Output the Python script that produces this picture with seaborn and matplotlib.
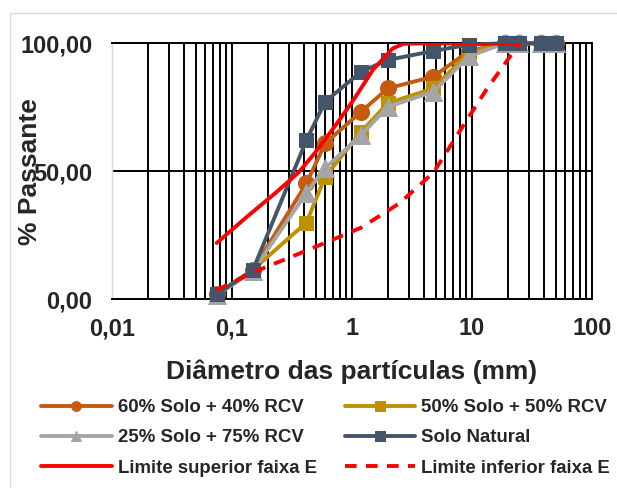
import seaborn as sns
import matplotlib
matplotlib.use('Agg')
import matplotlib.pyplot as plt
from matplotlib.patches import Rectangle
from matplotlib.ticker import LogLocator, FixedLocator, NullFormatter

# Sieve openings (mm)
peneiras = [0.075, 0.15, 0.42, 0.6, 1.2, 2.0, 4.8, 9.5, 19, 25, 38, 50]

solo60_rcv40 = [2, 11.5, 45.3, 60.9, 73.3, 82.4, 87.0, 97, 100, 100, 100, 100]
solo50_rcv50 = [2, 11.5, 30.0, 47.8, 65.5, 76.6, 82.4, 96.5, 100, 100, 100, 100]
solo25_rcv75 = [1.5, 11, 41.6, 51.2, 64.2, 75.2, 81.1, 95, 100, 100, 100, 100]
solo_natural = [2, 11.4, 62.2, 77.2, 88.9, 93.5, 97.0, 99.5, 100, 100, 100, 100]

# Limits of faixa E
lim_sup_x = [0.075, 0.14, 0.23, 0.36, 0.49, 0.72, 1.04, 1.5, 2.2, 2.7, 4.0, 25]
lim_sup_y = [22, 33, 41.4, 49.5, 57, 67.4, 78, 89.6, 98, 99.8, 100, 100]
lim_inf_x = [0.075, 0.15, 0.42, 1.2, 2.5, 4.8, 9.1, 13.3, 25]
lim_inf_y = [3.6, 10.5, 19, 28, 37.5, 49.5, 70, 82, 100]

labels = ['60% Solo + 40% RCV', '50% Solo + 50% RCV', '25% Solo + 75% RCV',
          'Solo Natural', 'Limite superior faixa E', 'Limite inferior faixa E']

sns.set_theme(style='white')
plt.rcParams['font.family'] = ['Liberation Sans', 'DejaVu Sans']
plt.rcParams['font.weight'] = 'bold'

fig = plt.figure(figsize=(6.17, 4.88), dpi=100)
ax = fig.add_axes([111.7 / 617, 1 - 299.3 / 488, 480 / 617, 256 / 488])

lw = 2.8
series = [
    (solo60_rcv40, '#C55A11', 'o', 11.5, labels[0]),
    (solo50_rcv50, '#BF9000', 's', 10.5, labels[1]),
    (solo25_rcv75, '#A5A5A5', '^', 12.5, labels[2]),
    (solo_natural, '#44546A', 's', 10.5, labels[3]),
]
handles = {}
for vals, cor, mk, ms, lab in series:
    sns.lineplot(x=peneiras, y=vals, ax=ax, color=cor, marker=mk, markersize=ms,
                 markeredgecolor=cor, markerfacecolor=cor, linewidth=lw,
                 label=lab, clip_on=False, zorder=3)
    handles[lab] = ax.lines[-1]

sns.lineplot(x=lim_sup_x, y=lim_sup_y, ax=ax, color='#FF0000', linewidth=lw,
             label=labels[4], zorder=4)
handles[labels[4]] = ax.lines[-1]
sns.lineplot(x=lim_inf_x, y=lim_inf_y, ax=ax, color='#FF0000', linewidth=lw,
             linestyle=(0, (3, 2.4)), label=labels[5], zorder=4)
handles[labels[5]] = ax.lines[-1]

ax.set_xscale('log')
ax.set_xlim(0.01, 100)
ax.set_ylim(0, 100)

ax.xaxis.set_major_locator(FixedLocator([0.01, 0.1, 1, 10, 100]))
ax.set_xticklabels(['0,01', '0,1', '1', '10', '100'])
ax.xaxis.set_minor_locator(LogLocator(base=10, subs=range(2, 10)))
ax.xaxis.set_minor_formatter(NullFormatter())
ax.set_yticks([0, 50, 100])
ax.set_yticklabels(['0,00', '50,00', '100,00'])

ax.tick_params(axis='both', which='both', length=0)
ax.tick_params(axis='x', labelsize=17, pad=13)
ax.tick_params(axis='y', labelsize=17, pad=14)
for t in ax.get_xticklabels() + ax.get_yticklabels():
    t.set_fontweight('bold')

ax.grid(True, axis='x', which='both', color='black', linewidth=1.4)
ax.grid(True, axis='y', which='major', color='black', linewidth=1.4)
ax.set_axisbelow(True)
for s in ['top', 'right', 'bottom']:
    ax.spines[s].set_color('black')
    ax.spines[s].set_linewidth(1.4)
ax.spines['left'].set_color('#D9D9D9')
ax.spines['left'].set_linewidth(1.0)

ax.set_xlabel('Diâmetro das partículas (mm)', fontsize=19, fontweight='bold', labelpad=14)
ax.set_ylabel('% Passante', fontsize=19, fontweight='bold')
ax.yaxis.set_label_coords(-0.145, 0.5)

ordem = [labels[0], labels[2], labels[4], labels[1], labels[3], labels[5]]
leg = ax.legend([handles[l] for l in ordem], ordem, ncol=2, frameon=False,
                loc='upper left', bbox_to_anchor=(41 / 617, 1 - 399 / 488),
                bbox_transform=fig.transFigure, borderpad=0, borderaxespad=0,
                handlelength=3.8, handletextpad=0.32, columnspacing=1.5,
                labelspacing=0.72, prop={'size': 13.4, 'weight': 'bold'})
for h in leg.legend_handles:
    h.set_markersize(7)

fig.patches.append(Rectangle((10 / 617, -0.1), 1.2, 1 - 13 / 488 + 0.1,
                             transform=fig.transFigure, fill=False,
                             edgecolor='#D9D9D9', linewidth=1.0))

fig.savefig('out.png', dpi=100)
